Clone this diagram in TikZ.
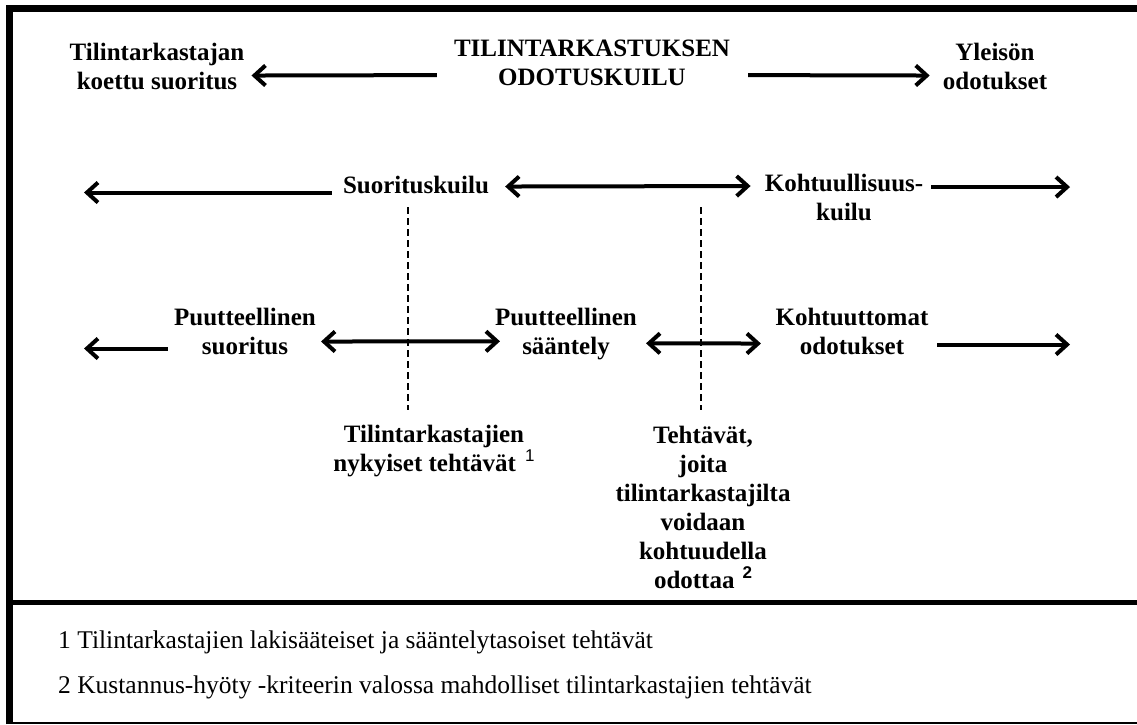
\documentclass[tikz,border=0pt]{standalone}
\usepackage{fontspec}
\setmainfont{Liberation Serif}
\setsansfont{Liberation Sans}
\usetikzlibrary{arrows.meta}

\tikzset{
  lbl/.style={font=\fontsize{25}{29}\selectfont\bfseries, align=center, inner sep=0pt, anchor=north},
  note/.style={font=\fontsize{25.5}{29}\selectfont, inner sep=0pt, anchor=base west},
  gaparrow/.style={line width=4pt, >={Straight Barb[length=11pt,width=20pt]}},
  guide/.style={dash pattern=on 7pt off 4pt, line width=1.2pt},
}
\newcommand{\supone}{\hspace{9pt}\raisebox{10pt}{\fontsize{17}{17}\selectfont\sffamily\mdseries 1}}
\newcommand{\suptwo}{\hspace{8pt}\raisebox{10pt}{\fontsize{17}{17}\selectfont\sffamily\bfseries 2}}

\begin{document}
\begin{tikzpicture}[x=1pt,y=-1pt]
\useasboundingbox (0,0) rectangle (1137,724);
\draw[line width=7pt] (9.5,724) -- (9.5,8.5) -- (1137,8.5);
\draw[line width=5pt] (9,602) -- (1137,602);
\draw[line width=1.5pt] (9,723) -- (1137,723);

\coordinate (farleft) at (84,0);
\coordinate (farright) at (1070,0);

\node[lbl] (koettu) at (157,43) {Tilintarkastajan\\koettu suoritus};
\node[lbl] (title) at (592,40) {TILINTARKASTUKSEN\\ODOTUSKUILU};
\node[lbl] (yleiso) at (995,43) {Yleisön\\odotukset};
\draw[gaparrow,->] ([xshift=-17pt,yshift=-12pt]title.west) -- ([xshift=7pt,yshift=-9pt]koettu.east);
\draw[gaparrow,->] ([xshift=18pt,yshift=-12pt]title.east) -- ([xshift=-13pt,yshift=-9pt]yleiso.west);

\node[lbl] (suorkuilu) at (416,176) {Suorituskuilu};
\node[lbl] (kohtkuilu) at (844,174) {Kohtuullisuus-\\kuilu};
\draw[gaparrow,->] ([xshift=-11pt,yshift=-7.5pt]suorkuilu.west) coordinate (s1) -- (s1 -| farleft);
\draw[gaparrow,<->] ([xshift=16pt,yshift=-1.5pt]suorkuilu.east) -- ([xshift=-14pt,yshift=11.5pt]kohtkuilu.west);
\draw[gaparrow,->] ([xshift=8pt,yshift=10.5pt]kohtkuilu.east) coordinate (s2) -- (s2 -| farright);

\node[lbl] (puut1) at (245,308) {Puutteellinen\\suoritus};
\node[lbl] (puut2) at (566,308) {Puutteellinen\\sääntely};
\node[lbl] (kohtuut) at (852,308) {Kohtuuttomat\\odotukset};
\draw[gaparrow,->] ([xshift=-6pt,yshift=-17pt]puut1.west) coordinate (s3) -- (s3 -| farleft);
\draw[gaparrow,<->] ([xshift=5pt,yshift=-10pt]puut1.east) -- ([xshift=5pt,yshift=-7.25pt]puut2.west);
\draw[gaparrow,<->] ([xshift=9pt,yshift=-9.25pt]puut2.east) -- ([xshift=-14.5pt,yshift=-12pt]kohtuut.west);
\draw[gaparrow,->] ([xshift=8.5pt,yshift=-13pt]kohtuut.east) coordinate (s4) -- (s4 -| farright);

\coordinate (d1a) at (408,207);
\coordinate (d1b) at (408,410);
\coordinate (d2a) at (701,207);
\coordinate (d2b) at (701,410);
\draw[guide] (d1a) -- (d1b);
\draw[guide] (d2a) -- (d2b);

\node[lbl] (nykyiset) at (434,425) {Tilintarkastajien\\nykyiset tehtävät\supone};
\node[lbl] (tehtavat) at (703,426) {Tehtävät,\\joita\\tilintarkastajilta\\voidaan\\kohtuudella\\odottaa\suptwo};

\node[note] (fn1) at (58,648) {1 Tilintarkastajien lakisääteiset ja sääntelytasoiset tehtävät};
\node[note] (fn2) at (58,693) {2 Kustannus-hyöty -kriteerin valossa mahdolliset tilintarkastajien tehtävät};
\end{tikzpicture}
\end{document}
